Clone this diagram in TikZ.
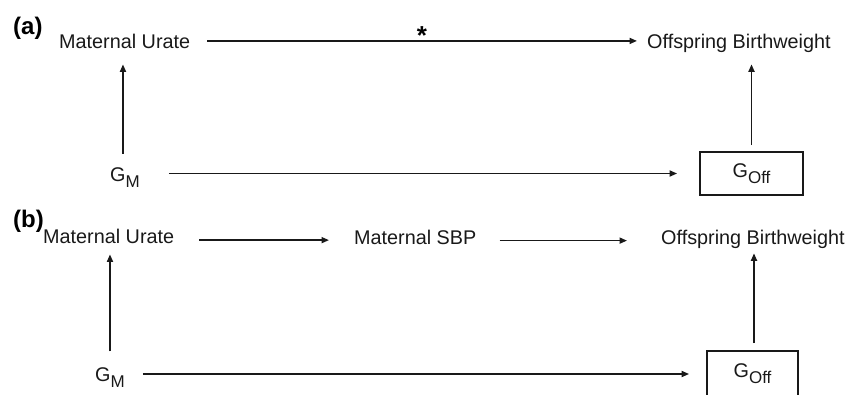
\documentclass[tikz,border=0pt]{standalone}
\usepackage{fontspec}
\setmainfont{Liberation Sans}
\usetikzlibrary{arrows.meta}
\newcommand{\subtxt}[1]{\raisebox{-6pt}{\fontsize{17}{17}\selectfont #1}}
\begin{document}
\begin{tikzpicture}[x=1pt,y=-1pt,
  lbl/.style={anchor=base west,inner sep=0pt,font=\fontsize{19.8}{24}\selectfont,text=black!90},
  panel/.style={anchor=base west,inner sep=0pt,font=\fontsize{24}{28}\selectfont\bfseries},
  gbox/.style={draw=black!90,line width=1.8pt,inner sep=0pt,font=\fontsize{19.8}{24}\selectfont,text=black!90},
  arr/.style={draw=black!90,line width=1.7pt,-{Triangle[length=7.5pt,width=6pt]}}]
\useasboundingbox (0,0) rectangle (848,394);
\clip (0,0) rectangle (848,394);
% panel (a)
\node[panel] (la) at (13,34.5) {(a)};
\node[lbl] (mu1) at (59,48) {Maternal Urate};
\node[lbl] (ob1) at (647,48) {Offspring Birthweight};
\node[lbl] (gm1) at (110,181) {G\subtxt{M}};
\node[gbox,minimum width=103pt,minimum height=43pt] (box1) at (751.5,173.5) {G\subtxt{Off}};
\node[anchor=base,inner sep=0pt,font=\fontsize{26}{28}\selectfont\bfseries] (star) at (422,44) {*};
\draw[arr,shorten <=17pt,shorten >=10pt] (mu1.east) -- (ob1.west |- mu1.east);
\draw[arr,shorten <=13pt,shorten >=16pt] ([xshift=-2pt]gm1.north) -- ([xshift=-2pt]gm1.north |- mu1.south);
\draw[arr,shorten <=29pt,shorten >=22pt] (gm1.east |- box1.west) -- (box1.west);
\draw[arr,shorten <=6pt,shorten >=12pt] (box1.north) -- (box1.north |- ob1.south);
% panel (b)
\node[panel] (lb) at (13,227.5) {(b)};
\node[lbl] (mu2) at (43,243.5) {Maternal Urate};
\node[lbl] (sbp) at (354,244) {Maternal SBP};
\node[lbl] (ob2) at (661,244) {Offspring Birthweight};
\node[lbl] (gm2) at (95,381) {G\subtxt{M}};
\node[gbox,minimum width=91pt,minimum height=46pt] (box2) at (752.5,374) {G\subtxt{Off}};
\draw[arr,shorten <=25pt,shorten >=25pt] ([yshift=-3.7pt]mu2.east) -- ([yshift=-3.7pt]mu2.east -| sbp.west);
\draw[arr,shorten <=23pt,shorten >=34pt] ([yshift=-3.7pt]sbp.east) -- ([yshift=-3.7pt]sbp.east -| ob2.west);
\draw[arr,shorten <=15.5pt,shorten >=10.5pt] (gm2.north) -- (gm2.north |- mu2.south);
\draw[arr,shorten <=18pt,shorten >=17pt] (gm2.east |- 0,374) -- (box2.west |- 0,374);
\draw[arr,shorten <=7pt,shorten >=5pt] ([xshift=1.5pt]box2.north) -- ([xshift=1.5pt]box2.north |- ob2.south);
\end{tikzpicture}
\end{document}
